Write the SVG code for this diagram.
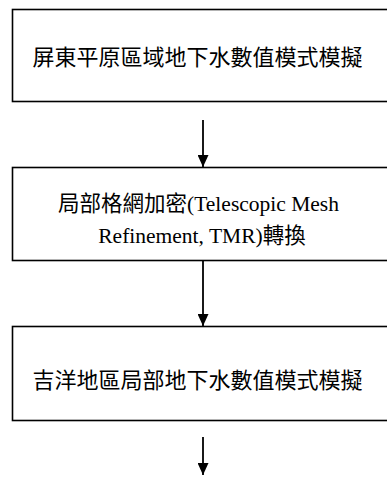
<svg xmlns="http://www.w3.org/2000/svg" width="387" height="486" viewBox="0 0 387 486">
<style>
.box{fill:#fff;stroke:#000;stroke-width:1.6}
.t{font-family:"Liberation Serif","Noto Sans CJK TC",serif;fill:#000;text-anchor:middle;dominant-baseline:central}
.c{stroke:#000;stroke-width:1.8;fill:none;marker-end:url(#ah)}
</style>
<defs>
<marker id="ah" markerWidth="11" markerHeight="12" refX="5.5" refY="12" orient="0" markerUnits="userSpaceOnUse" viewBox="0 0 11 12">
<path d="M0,0 L11,0 L5.5,12 Z" fill="#000"/>
</marker>
</defs>
<rect width="387" height="486" fill="#fff"/>
<g id="node1">
<rect class="box" x="12.5" y="9.5" width="385" height="92"/>
<text class="t" x="197.5" y="57" font-size="22">屏東平原區域地下水數值模式模擬</text>
</g>
<g id="node2">
<rect class="box" x="12.5" y="167.5" width="385" height="93"/>
<text class="t" x="198.5" y="204" font-size="21.5">局部格網加密(Telescopic Mesh</text>
<text class="t" x="202" y="236" font-size="21.5">Refinement, TMR)轉換</text>
</g>
<g id="node3">
<rect class="box" x="12.5" y="326.5" width="385" height="94"/>
<text class="t" x="197.5" y="380" font-size="22">吉洋地區局部地下水數值模式模擬</text>
</g>
<g id="connectors">
<line class="c" x1="203" y1="120" x2="203" y2="167"/>
<line class="c" x1="203" y1="261" x2="203" y2="326"/>
<line class="c" x1="203" y1="437" x2="203" y2="475"/>
</g>
</svg>
